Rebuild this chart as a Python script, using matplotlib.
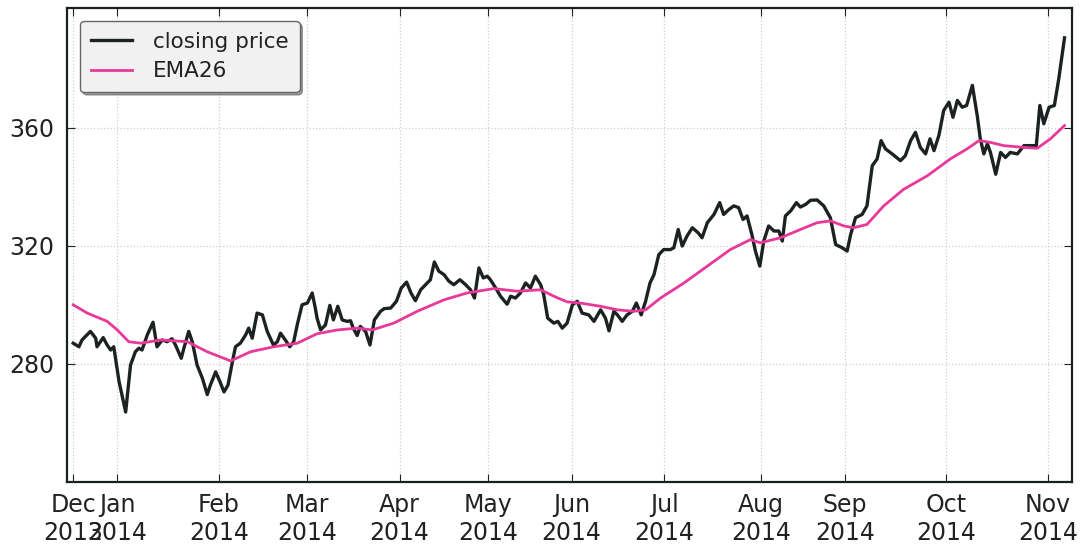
import matplotlib
matplotlib.use("Agg")
import matplotlib.pyplot as plt

# ---- data (x = trading-day index from 2013-12-17) ----
close_x = [0, 1.3, 2.0, 3.9, 5.1, 5.4, 6.8, 7.7, 8.5, 9.2, 10.4, 11.9, 13.0, 14.1, 14.9, 15.6,
           16.8, 18.1, 19.0, 20.2, 21.3, 22.4, 23.2, 24.5, 25.1, 26.2, 27.0, 28.1, 29.3, 30.4,
           31.1, 32.3, 33.3, 34.2, 35.1, 36.1, 36.8, 37.9, 39.1, 39.8, 40.6, 41.7, 42.9, 44.0,
           45.4, 46.3, 47.0, 48.1, 49.1, 50.0, 50.8, 51.9, 53.1, 54.2, 54.9, 55.3, 56.1, 57.2,
           58.2, 59.0, 60.0, 61.0, 62.1, 62.9, 63.5, 64.4, 65.1, 66.3, 67.3, 68.3, 69.7, 70.5,
           72.0, 73.3, 74.4, 75.6, 76.6, 77.6, 78.8, 79.9, 81.0, 81.9, 82.9, 84.1, 85.2, 86.3,
           87.7, 89.0, 90.1, 91.0, 92.0, 93.0, 93.9, 94.6, 95.8, 96.9, 98.4, 99.2, 100.3, 101.4,
           102.6, 103.7, 104.8, 106.0, 106.7, 107.6, 109.0, 109.9, 110.9, 112.0, 113.2, 114.3,
           115.4, 116.9, 118.1, 119.6, 120.7, 121.5, 122.6, 123.4, 124.5, 125.6, 126.8, 127.7,
           128.8, 129.8, 130.8, 131.7, 132.8, 133.9, 135.4, 136.2, 137.2, 138.1, 139.2, 140.4,
           141.7, 142.6, 143.8, 145.3, 146.6, 147.5, 148.7, 149.8, 150.9, 151.9, 152.8, 153.9,
           154.7, 155.7, 156.6, 157.7, 158.9, 160.0, 160.8, 161.5, 162.7, 164.0, 164.9, 166.1,
           167.2, 168.7, 170.2, 171.7, 172.9, 174.4, 175.5, 176.3, 177.4, 178.9, 180.0, 181.2,
           182.3, 183.2, 184.2, 185.7, 187.6, 188.7, 189.9, 191.0, 192.1, 193.3, 194.3, 195.2,
           196.3, 197.4, 198.6, 199.5, 200.5, 201.6, 202.6, 203.9, 205.0, 205.7, 206.5, 207.3,
           208.0, 209.2, 210.3, 211.4, 212.5, 214.1, 215.6, 217.1, 218.4, 219.2, 220.1, 221.3,
           222.5, 223.5, 224.8]
close_y = [287.0, 285.8, 288.1, 291.0, 288.7, 285.8, 288.9, 286.4, 284.7, 285.8, 274.0, 263.7,
           279.6, 284.1, 285.3, 284.7, 289.8, 294.1, 285.8, 288.1, 287.5, 288.5, 286.4, 281.9,
           285.3, 291.0, 287.5, 279.6, 275.1, 269.6, 272.8, 277.3, 273.9, 270.5, 272.8, 280.7,
           285.8, 287.0, 289.8, 292.1, 288.7, 297.2, 296.6, 291.0, 286.4, 287.5, 290.4, 288.1,
           285.8, 287.5, 293.2, 300.0, 300.6, 304.0, 298.9, 295.5, 291.5, 293.2, 299.8, 294.9,
           299.5, 294.9, 294.4, 294.6, 292.1, 289.6, 292.7, 291.0, 286.4, 294.9, 297.8, 298.7,
           298.9, 301.2, 305.7, 307.7, 304.0, 301.4, 305.1, 306.8, 308.5, 314.5, 311.4, 310.2,
           308.0, 306.8, 308.5, 306.8, 305.1, 302.3, 312.5, 309.1, 309.7, 308.5, 305.7, 302.9,
           300.2, 302.9, 302.3, 304.0, 307.4, 305.7, 309.7, 306.8, 303.4, 295.5, 293.8, 294.4,
           292.1, 293.8, 300.0, 301.2, 297.2, 296.6, 294.4, 298.3, 295.5, 291.2, 297.8, 296.6,
           294.4, 296.6, 297.8, 300.6, 296.6, 301.2, 307.4, 310.2, 317.0, 318.7, 318.7, 319.3,
           325.5, 319.9, 323.3, 326.1, 324.4, 322.7, 327.8, 330.6, 334.6, 330.6, 332.3, 333.5,
           332.9, 328.9, 330.1, 323.8, 318.2, 313.1, 321.6, 326.7, 325.0, 325.0, 321.6, 330.1,
           331.8, 334.6, 333.1, 334.0, 335.4, 335.5, 333.5, 329.5, 320.4, 319.3, 318.2, 323.8,
           329.5, 330.6, 333.5, 347.1, 349.4, 355.6, 352.8, 351.1, 348.8, 350.5, 355.6, 358.4,
           353.3, 351.1, 356.2, 352.2, 357.3, 365.8, 368.6, 363.5, 369.2, 366.9, 367.5, 374.3,
           364.1, 356.2, 351.1, 354.5, 351.6, 344.2, 351.6, 349.9, 351.6, 351.1, 353.9, 353.9,
           353.9, 367.5, 361.3, 366.9, 367.5, 376.6, 390.4]

ema_x = [0, 3.2, 7.7, 10.0, 12.6, 15.3, 19.8, 25.9, 30.4, 35.7, 40.2, 45.5, 50.8, 55.3, 59.9,
         64.4, 67.8, 72.7, 78.0, 84.1, 89.3, 95.4, 100.7, 106.0, 109.0, 112.0, 115.0, 119.6,
         123.4, 127.1, 129.8, 133.2, 138.5, 143.8, 149.0, 153.6, 155.8, 160.4, 164.9, 168.7,
         171.7, 174.8, 177.0, 180.0, 183.8, 188.3, 193.7, 198.9, 202.7, 205.4, 208.0, 211.0,
         215.6, 218.6, 221.6, 224.8]
ema_y = [300.0, 297.2, 294.4, 291.5, 287.5, 287.0, 288.1, 287.5, 284.1, 281.0, 284.1, 285.8,
         287.0, 290.2, 291.5, 292.1, 291.5, 293.8, 297.8, 301.7, 304.0, 305.5, 304.6, 305.1,
         302.9, 301.0, 300.6, 299.5, 298.3, 297.8, 298.3, 302.3, 307.4, 313.1, 318.7, 322.1,
         321.0, 322.7, 325.5, 327.8, 328.4, 326.7, 326.1, 327.2, 333.5, 339.1, 343.7, 349.4,
         352.8, 355.6, 355.0, 353.9, 353.3, 353.0, 356.2, 360.7]

tick_pos = [0, 10, 33, 53, 74, 94, 113, 134, 156, 175, 198, 221]
tick_labels = ["Dec\n2013", "Jan\n2014", "Feb\n2014", "Mar\n2014", "Apr\n2014", "May\n2014",
               "Jun\n2014", "Jul\n2014", "Aug\n2014", "Sep\n2014", "Oct\n2014", "Nov\n2014"]
y_ticks = [280, 320, 360]

# ---- plot ----
plt.rcParams['font.family'] = ['DejaVu Sans']
fig = plt.figure(figsize=(10.81, 5.48), dpi=100, facecolor='white')
ax = fig.add_axes([0.062, 0.1204, 0.9297, 0.865])

ax.plot(close_x, close_y, color='#1c2222', lw=2.4, label='closing price', zorder=3)
ax.plot(ema_x, ema_y, color='#e8399a', lw=2.0, label='EMA26', zorder=4)

ax.set_xlim(-1.4, 226.5)
ax.set_ylim(240, 400.5)
ax.set_xticks(tick_pos)
ax.set_xticklabels(tick_labels)
ax.set_yticks(y_ticks)

ax.grid(True, color='#cfcfcf', linestyle=':', linewidth=0.9)
for s in ax.spines.values():
    s.set_linewidth(1.6)
    s.set_color('#1a2020')

ax.tick_params(axis='both', which='major', direction='in', length=6, width=0.8,
               top=True, right=True, labelsize=17, colors='#222222')
ax.tick_params(axis='x', pad=8)
ax.tick_params(axis='y', pad=9)

leg = ax.legend(loc='upper left', fontsize=15.5, frameon=True, fancybox=True, shadow=True,
                handlelength=1.9, borderpad=0.5, labelspacing=0.45, handletextpad=1.0,
                borderaxespad=0.6)
leg.get_frame().set_facecolor('#f1f1f1')
leg.get_frame().set_edgecolor('#666666')
leg.get_frame().set_alpha(1.0)
for t in leg.get_texts():
    t.set_color('#222222')

fig.savefig('out.png', dpi=100, facecolor='white')
